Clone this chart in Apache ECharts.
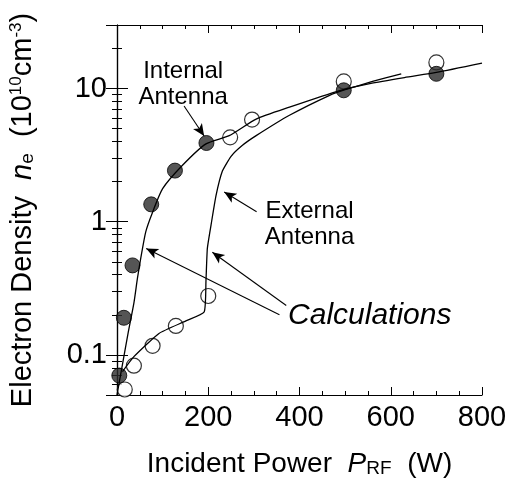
<!DOCTYPE html>
<html lang="en">
<head>
    <meta charset="UTF-8" />
    <title>Electron Density vs Incident Power</title>
    <script src="https://cdn.jsdelivr.net/npm/echarts@6/dist/echarts.min.js"></script>
    <style>
        body { margin: 0; background: #fff; }
        #main { width: 511px; height: 490px; }
    </style>
</head>
<body>
<div id="main"></div>
<script type="text/javascript">
    // measured points (W, 10^10 cm^-3)
    var internalX = [5, 15, 34, 75, 127, 196, 497, 700];
    var internalY = [0.07, 0.19, 0.47, 1.35, 2.42, 3.9, 9.7, 12.9];
    var externalX = [17, 37, 78, 129, 200, 248, 296, 497, 700];
    var externalY = [0.055, 0.083, 0.117, 0.165, 0.277, 4.3, 5.85, 11.3, 15.7];

    // calculation curves
    var internalCalcX = [0, 12, 25, 37, 45, 52, 63, 78, 100, 143, 195, 246, 305, 378, 488, 554, 630, 700, 800];
    var internalCalcY = [0.05, 0.085, 0.15, 0.245, 0.38, 0.53, 0.84, 1.18, 1.77, 2.64, 3.84, 4.43, 5.9, 7.25, 9.66, 10.9, 12.1, 13.2, 15.5];
    var externalCalcX = [12, 37, 92, 151, 191, 195, 198, 206, 217, 231, 250, 275, 305, 378, 466, 500, 560, 623];
    var externalCalcY = [0.075, 0.097, 0.145, 0.18, 0.21, 0.36, 0.63, 0.94, 1.57, 2.4, 3.1, 3.75, 4.43, 6.3, 8.9, 9.8, 11.3, 12.9];

    var yLabels = [0.1, 1, 10];

    // annotation texts and arrows, in data coordinates
    var labelTexts = ['Internal\nAntenna', 'External\nAntenna', 'Calculations'];
    var labelCoords = [[145, 10.8], [422, 0.95], [554, 0.198]];
    var arrows = [
        [[147, 7.4], [191, 4.4]],
        [[306, 1.19], [235, 1.67]],
        [[356, 0.2], [64, 0.63]],
        [[371, 0.235], [209, 0.59]]
    ];

    function pairs(xs, ys) {
        var out = [];
        for (var i = 0; i < xs.length; i++) out.push([xs[i], ys[i]]);
        return out;
    }

    var font = 'Liberation Sans, Arial, sans-serif';
    var black = '#000';

    function yAx(pos, labels) {
        return {
            type: 'log', logBase: 10, min: 0.05, max: 30, position: pos,
            axisLine: { show: true, lineStyle: { color: black, width: 1.2 } },
            axisTick: { show: true, inside: true, length: 11, lineStyle: { color: black } },
            minorTick: { show: true, splitNumber: 9, length: 5, lineStyle: { color: black } },
            axisLabel: labels ? {
                show: true, customValues: yLabels, margin: 10, fontSize: 29,
                fontFamily: font, color: black
            } : { show: false },
            splitLine: { show: false }
        };
    }

    var yLeft = yAx('left', true);
    yLeft.name = 'Electron Density  {i|n}{sub|e}  (10{sup|10}cm{sup|-3})';
    yLeft.nameLocation = 'middle';
    yLeft.nameGap = 80;
    yLeft.nameTextStyle = {
        fontSize: 29, fontFamily: font, color: black,
        rich: {
            i: { fontSize: 29, fontStyle: 'italic', fontFamily: font, color: black },
            sub: { fontSize: 19, fontFamily: font, color: black, verticalAlign: 'bottom', lineHeight: 18 },
            sup: { fontSize: 17, fontFamily: font, color: black, verticalAlign: 'top', lineHeight: 16 }
        }
    };

    function xAx(pos, labels) {
        return {
            type: 'value', min: 0, max: 800, interval: 200, position: pos,
            axisLine: { show: true, lineStyle: { color: black, width: 1.2 } },
            axisTick: { inside: true, length: 8, lineStyle: { color: black } },
            minorTick: { show: true, splitNumber: 4, length: 4, lineStyle: { color: black } },
            axisLabel: labels ? { margin: 8, fontSize: 29, fontFamily: font, color: black } : { show: false },
            splitLine: { show: false }
        };
    }

    var xBottom = xAx('bottom', true);
    xBottom.name = 'Incident Power  {i|P}{sub|RF}  (W)';
    xBottom.nameLocation = 'middle';
    xBottom.nameGap = 55;
    xBottom.nameTextStyle = {
        fontSize: 28, fontFamily: font, color: black,
        rich: {
            i: { fontSize: 28, fontStyle: 'italic', fontFamily: font, color: black },
            sub: { fontSize: 19, fontFamily: font, color: black, verticalAlign: 'bottom', lineHeight: 14 }
        }
    };

    var chart = echarts.init(document.getElementById('main'));
    chart.setOption({
        animation: false,
        backgroundColor: '#fff',
        grid: { left: 117, right: 29, top: 25, bottom: 95 },
        xAxis: [xBottom, xAx('top', false)],
        yAxis: [yLeft, yAx('right', false)],
        series: [{
            name: 'Internal calc',
            type: 'line', smooth: 0.2, showSymbol: false,
            data: pairs(internalCalcX, internalCalcY),
            lineStyle: { color: black, width: 1.3 },
            markPoint: {
                symbol: 'circle', symbolSize: 0, silent: true,
                data: labelTexts.map(function (t, i) {
                    return {
                        coord: labelCoords[i], value: t,
                        label: {
                            show: true, position: 'inside', formatter: t,
                            fontSize: i === 2 ? 30 : 24, lineHeight: 26,
                            fontStyle: i === 2 ? 'italic' : 'normal',
                            fontFamily: font, color: black
                        }
                    };
                })
            },
            markLine: {
                silent: true, symbol: ['none', 'arrow'], symbolSize: [8, 12],
                label: { show: false },
                lineStyle: { color: black, width: 1.1, type: 'solid' },
                data: arrows.map(function (a) {
                    return [{ coord: a[0] }, { coord: a[1] }];
                })
            }
        }, {
            name: 'External calc',
            type: 'line', smooth: 0.15, showSymbol: false,
            data: pairs(externalCalcX, externalCalcY),
            lineStyle: { color: black, width: 1.3 }
        }, {
            name: 'External',
            type: 'scatter', symbol: 'circle', symbolSize: 15,
            data: pairs(externalX, externalY),
            itemStyle: { color: '#fff', borderColor: black, borderWidth: 1.2 }
        }, {
            name: 'Internal',
            type: 'scatter', symbol: 'circle', symbolSize: 15,
            data: pairs(internalX, internalY),
            itemStyle: { color: '#2a2a2a', borderColor: black, borderWidth: 1 }
        }]
    });
</script>
</body>
</html>
